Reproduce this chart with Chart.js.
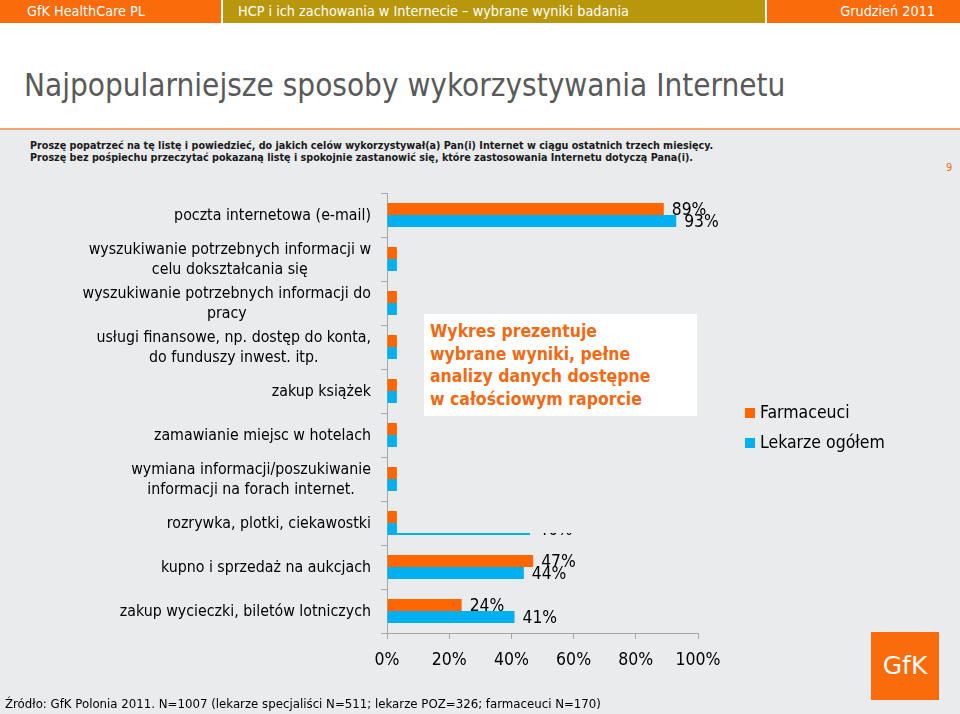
<!DOCTYPE html>
<html lang="pl">
<head>
<meta charset="utf-8">
<title>Najpopularniejsze sposoby wykorzystywania Internetu</title>
<script src="https://cdn.jsdelivr.net/npm/chart.js@4/dist/chart.umd.min.js"></script>
<style>
  html, body { margin: 0; padding: 0; }
  body {
    width: 960px; height: 714px; position: relative; overflow: hidden;
    background: #e9ebed;
    font-family: 'DejaVu Sans Condensed', 'DejaVu Sans', sans-serif;
  }
  #top { position: absolute; left: 0; top: 0; width: 960px; height: 128px; background: #fff; }
  #rule { position: absolute; left: 0; top: 128px; width: 960px; height: 2px; background: #f2a46e; }
  .hdr { position: absolute; top: 0; height: 23px; line-height: 23px; color: #fff; font-size: 14.3px; white-space: nowrap; }
  #h1 { left: 0; width: 221px; background: #fa6b0b; padding-left: 27px; box-sizing: border-box; }
  #h2 { left: 223px; width: 542px; background: #b9970c; padding-left: 15px; box-sizing: border-box; }
  #h3 { left: 767px; width: 193px; background: #fa6b0b; text-align: right; padding-right: 25px; box-sizing: border-box; }
  #title { position: absolute; left: 24px; top: 67px; font-size: 31.2px; color: #595959; white-space: nowrap; }
  .q { position: absolute; left: 30px; font-size: 10.7px; font-weight: bold; color: #1a1a1a; white-space: nowrap; }
  #pg { position: absolute; left: 946px; top: 161px; font-size: 11px; color: #f07020; }
  #chart { position: absolute; left: 0; top: 0; z-index: 1; }
  #note {
    position: absolute; z-index: 2; left: 424px; top: 314px; width: 273px; height: 102px;
    background: #fff; box-sizing: border-box; padding: 6px 0 0 6px;
    color: #f06a14; font-weight: bold; font-size: 17.5px; line-height: 22.5px;
  }
  .leg { position: absolute; z-index: 2; left: 745px; font-size: 17.5px; color: #000; white-space: nowrap; }
  .leg i { display: inline-block; width: 10px; height: 10px; margin-right: 5px; }
  #logo {
    position: absolute; z-index: 2; left: 871px; top: 632px; width: 68px; height: 68px;
    background: #fa6b0b; color: #fff; font-size: 25px; text-align: center; line-height: 68px;
    font-family: 'DejaVu Sans', sans-serif;
  }
  #src { position: absolute; z-index: 2; left: 5px; top: 696px; font-size: 13.1px; color: #000; white-space: nowrap; }
</style>
</head>
<body>
<div id="top"></div>
<div id="rule"></div>
<div class="hdr" id="h1">GfK HealthCare PL</div>
<div class="hdr" id="h2">HCP i ich zachowania w Internecie – wybrane wyniki badania</div>
<div class="hdr" id="h3">Grudzień 2011</div>
<div id="title">Najpopularniejsze sposoby wykorzystywania Internetu</div>
<div class="q" style="top:139px">Proszę popatrzeć na tę listę i powiedzieć, do jakich celów wykorzystywał(a) Pan(i) Internet w ciągu ostatnich trzech miesięcy.</div>
<div class="q" style="top:151px">Proszę bez pośpiechu przeczytać pokazaną listę i spokojnie zastanowić się, które zastosowania Internetu dotyczą Pana(i).</div>
<div id="pg">9</div>

<canvas id="chart" width="960" height="714"></canvas>

<div id="note">Wykres prezentuje<br>wybrane wyniki, pełne<br>analizy danych dostępne<br>w całościowym raporcie</div>
<div class="leg" style="top:402px"><i style="background:#ff6600"></i>Farmaceuci</div>
<div class="leg" style="top:432px"><i style="background:#00b0f0"></i>Lekarze ogółem</div>
<div id="logo">GfK</div>
<div id="src">Źródło: GfK Polonia 2011. N=1007 (lekarze specjaliści N=511; lekarze POZ=326; farmaceuci N=170)</div>

<script>
// categories, top to bottom; arrays are wrapped lines
const CATEGORIES = [
  ['poczta internetowa (e-mail)'],
  ['wyszukiwanie potrzebnych informacji w', 'celu dokształcania się'],
  ['wyszukiwanie potrzebnych informacji do', 'pracy'],
  ['usługi finansowe, np. dostęp do konta,', 'do funduszy inwest. itp.'],
  ['zakup książek'],
  ['zamawianie miejsc w hotelach'],
  ['wymiana informacji/poszukiwanie', 'informacji na forach internet.'],
  ['rozrywka, plotki, ciekawostki'],
  ['kupno i sprzedaż na aukcjach'],
  ['zakup wycieczki, biletów lotniczych'],
];

// values in %; the middle rows only show a short stub in the source slide
const FARMACEUCI = [89, 3.2, 3.2, 3.2, 3.2, 3.2, 3.2, 3.2, 47, 24];
const LEKARZE    = [93, 3.2, 3.2, 3.2, 3.2, 3.2, 3.2, 46, 44, 41];

const X_TICKS = [0, 20, 40, 60, 80, 100];

const SERIES_NAMES = ['Farmaceuci', 'Lekarze ogółem'];

const COLOR_ORANGE = '#ff6600';
const COLOR_BLUE   = '#00b0f0';
const COLOR_AXIS   = '#a6a6a6';
const COLOR_BG     = '#e9ebed';

const FONT_FAMILY = "'DejaVu Sans Condensed', 'DejaVu Sans', sans-serif";

const STUB_VALUE = 3.2;   // the cover starts where the stubs end
const COVER_LAST_ROW = 7; // cover runs down to this row's blue bar

function drawCategoryLabels(chart) {
  const { ctx, scales: { y } } = chart;
  ctx.save();
  ctx.font = '15.8px ' + FONT_FAMILY;
  ctx.fillStyle = '#000';
  ctx.textAlign = 'center';
  ctx.textBaseline = 'middle';
  const right = 371;
  const lh = 20;
  CATEGORIES.forEach((lines, i) => {
    const cy = y.getPixelForValue(i) + 1;
    const w = Math.max(...lines.map(l => ctx.measureText(l).width));
    lines.forEach((l, k) => {
      ctx.fillText(l, right - w / 2, cy - (lines.length - 1) * lh / 2 + k * lh);
    });
  });
  ctx.restore();
}

function drawValueLabels(chart) {
  const { ctx } = chart;
  ctx.save();
  ctx.font = '17.3px ' + FONT_FAMILY;
  ctx.fillStyle = '#000';
  ctx.textAlign = 'left';
  ctx.textBaseline = 'middle';
  chart.data.datasets.forEach((ds, di) => {
    chart.getDatasetMeta(di).data.forEach((bar, i) => {
      if (ds.data[i] <= 5) return;
      ctx.fillText(Math.round(ds.data[i]) + '%', bar.x + 8, bar.y + 2);
    });
  });
  ctx.restore();
}

// grey panel hiding the unpublished part of the chart
function drawCover(chart) {
  const { ctx, chartArea, scales: { x, y } } = chart;
  const lastBar = chart.getDatasetMeta(1).data[COVER_LAST_ROW];
  const x0 = x.getPixelForValue(STUB_VALUE);
  const y0 = y.getPixelForValue(0.5) + 3;
  const y1 = lastBar.y + lastBar.height / 2 - 2;
  ctx.save();
  ctx.fillStyle = COLOR_BG;
  ctx.fillRect(x0, y0, chartArea.right + 60 - x0, y1 - y0);
  ctx.restore();
}

const slidePlugin = {
  id: 'slide',
  afterDraw(chart) {
    drawValueLabels(chart);
    drawCover(chart);
    drawCategoryLabels(chart);
  },
};

new Chart(document.getElementById('chart'), {
  type: 'bar',
  data: {
    labels: CATEGORIES,
    datasets: [
      { label: SERIES_NAMES[0], data: FARMACEUCI, backgroundColor: COLOR_ORANGE },
      { label: SERIES_NAMES[1], data: LEKARZE,    backgroundColor: COLOR_BLUE },
    ],
  },
  options: {
    indexAxis: 'y',
    responsive: false,
    animation: false,
    layout: { padding: { top: 193, right: 262, left: 0, bottom: 0 } },
    datasets: { bar: { categoryPercentage: 0.545, barPercentage: 1 } },
    plugins: {
      legend: { display: false },
      tooltip: { enabled: false },
    },
    scales: {
      x: {
        min: 0,
        max: 100,
        afterBuildTicks: s => { s.ticks = X_TICKS.map(v => ({ value: v })); },
        ticks: {
          callback: v => v + '%',
          color: '#000',
          font: { size: 17.5, family: FONT_FAMILY },
          padding: 11,
        },
        grid: { drawOnChartArea: false, tickLength: 6, color: COLOR_AXIS },
        border: { color: COLOR_AXIS },
        afterFit: s => { s.height = 81; },
      },
      y: {
        ticks: { display: false },
        grid: { drawOnChartArea: false, tickLength: 6, color: COLOR_AXIS },
        border: { color: COLOR_AXIS },
        afterFit: s => { s.width = 387; },
      },
    },
  },
  plugins: [slidePlugin],
});
</script>
</body>
</html>
